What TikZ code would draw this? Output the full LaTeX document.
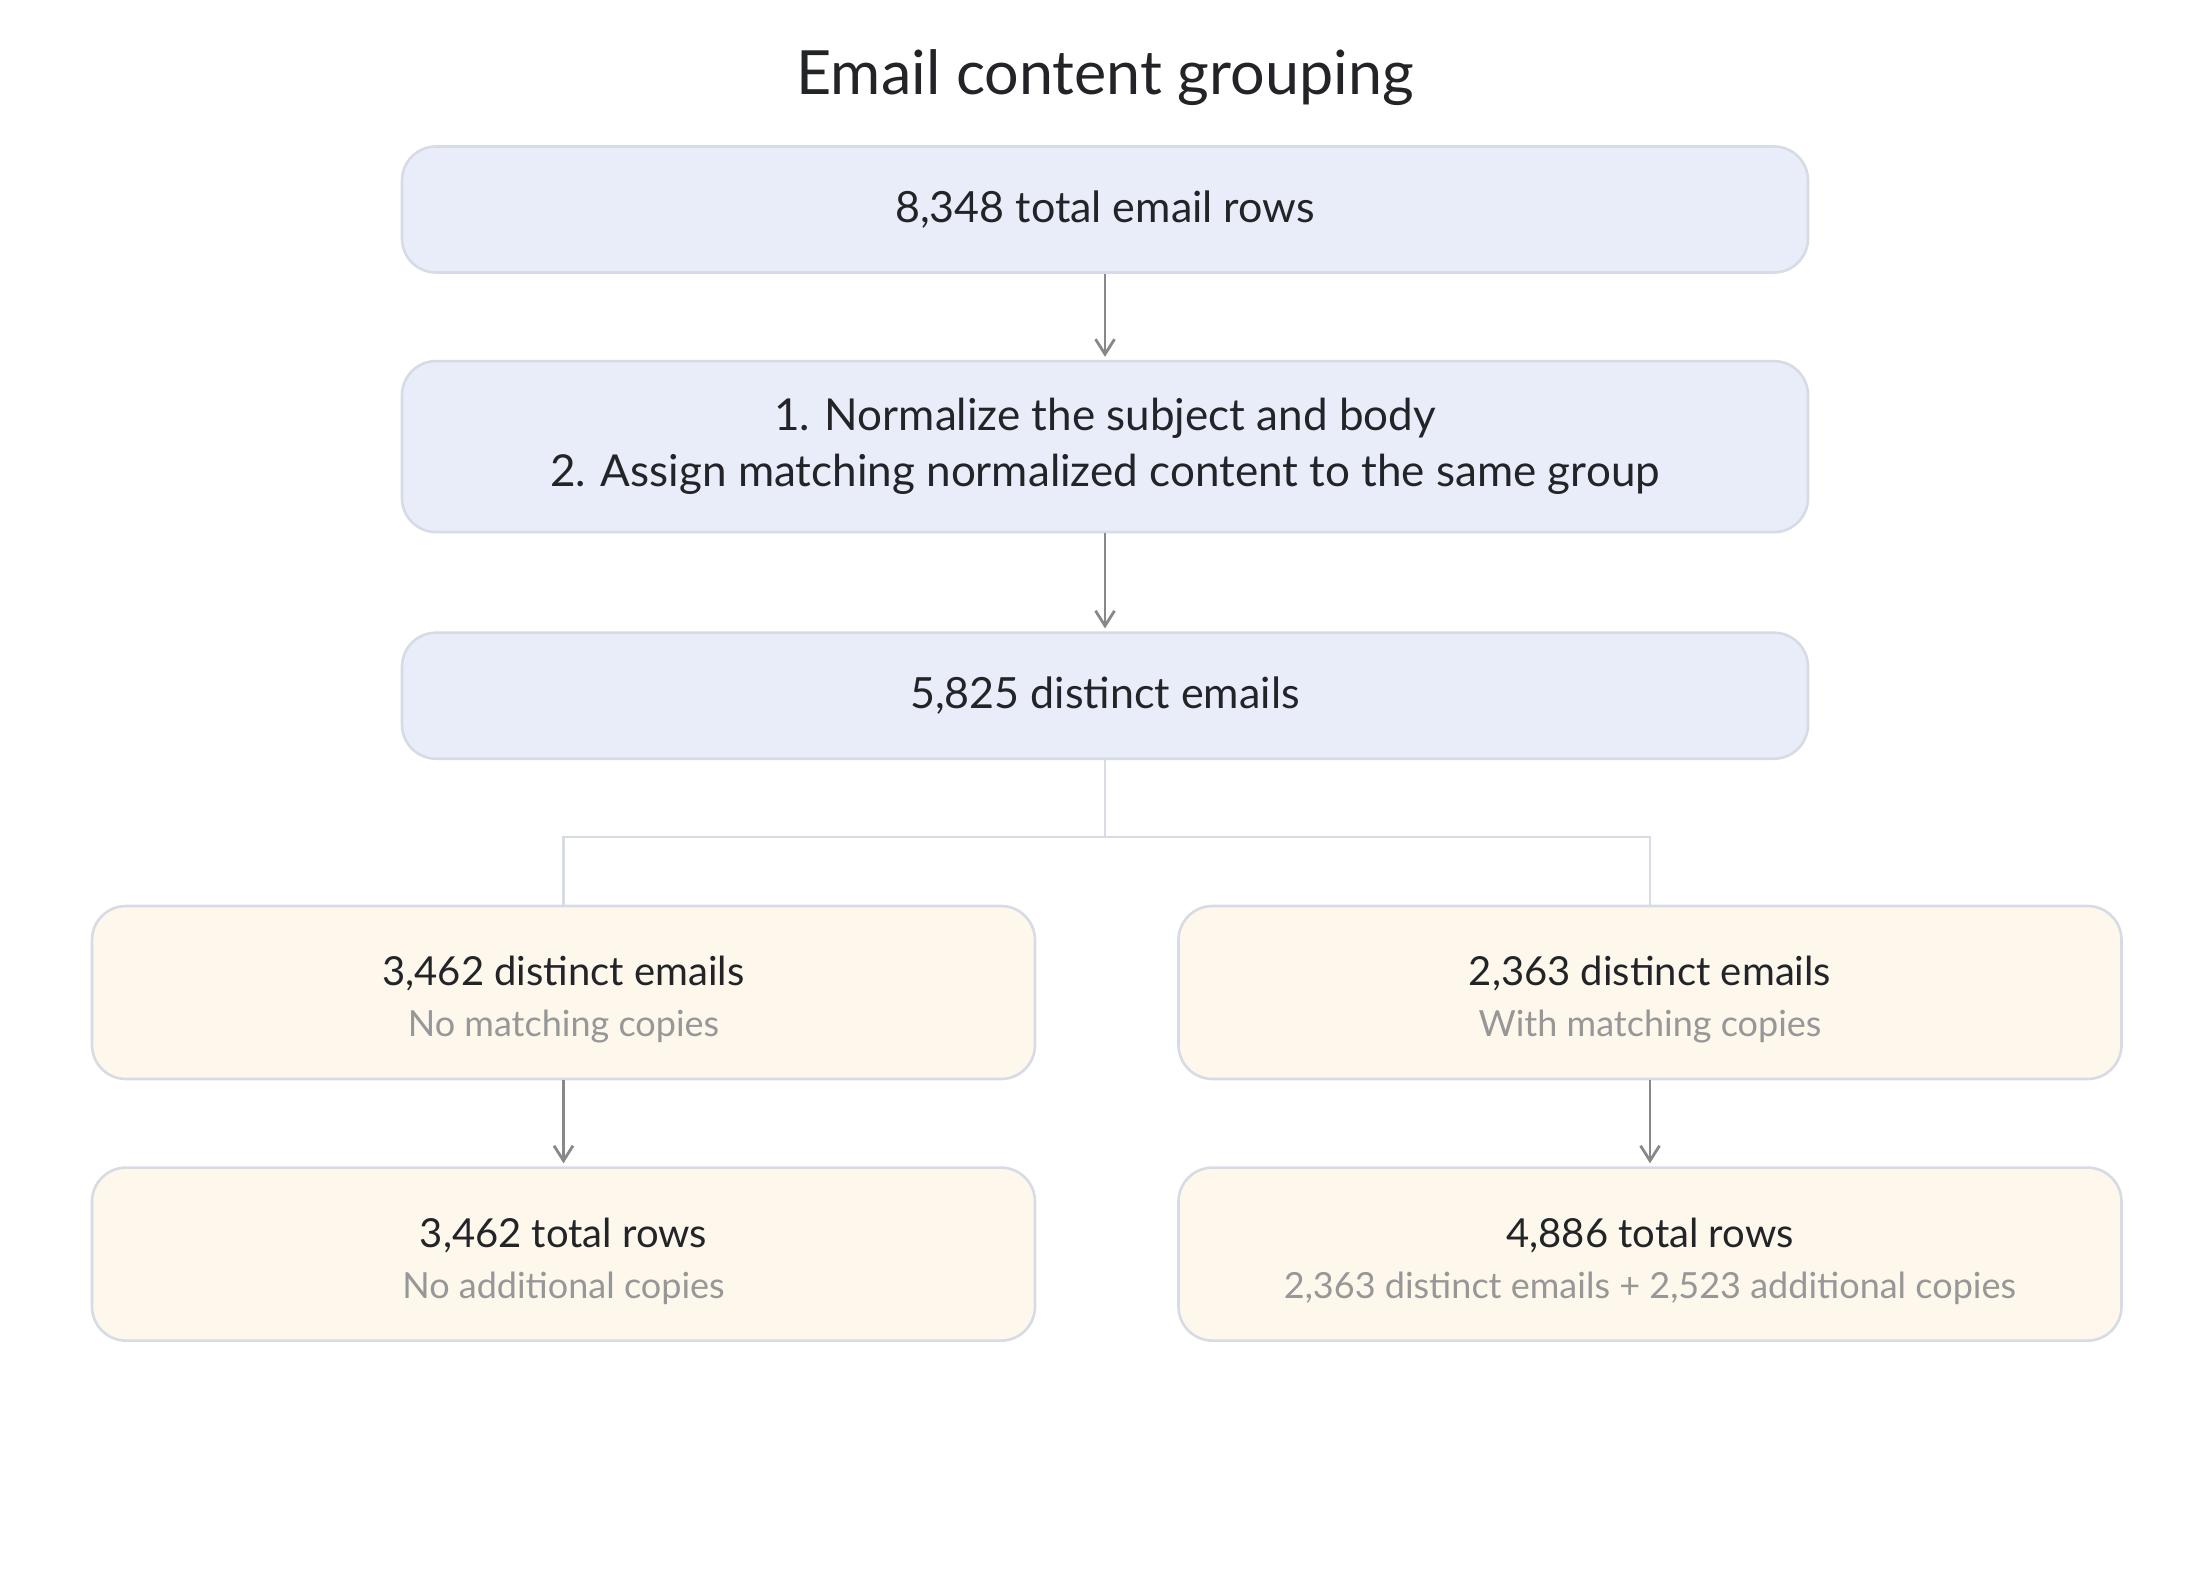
\documentclass[tikz,border=0pt]{standalone}
\usepackage{fontspec}
\setmainfont{Lato}
\usetikzlibrary{positioning, arrows.meta}
\definecolor{bluefill}{HTML}{E8EDF9}
\definecolor{creamfill}{HTML}{FDF7EC}
\definecolor{boxline}{HTML}{D6DBE5}
\definecolor{arrowgray}{HTML}{888888}
\definecolor{maintext}{HTML}{222428}
\definecolor{subtext}{HTML}{979797}
\newcommand{\subline}[1]{{\color{subtext}\fontsize{18}{24}\selectfont #1}}
\newcommand{\topline}[1]{\rule{0pt}{22pt}#1\\[-0.5pt]}

\begin{document}
\begin{tikzpicture}[x=0.5pt, y=-0.5pt,
	box/.style={draw=boxline, line width=1.3pt, rounded corners=17pt,
		align=center, text=maintext, inner sep=0pt,
		font=\fontsize{21.5}{28}\selectfont},
	bluebox/.style={box, fill=bluefill, minimum width=703pt},
	creambox/.style={box, fill=creamfill, minimum width=471.5pt, minimum height=86.5pt,
		font=\fontsize{20}{26}\selectfont},
	flow/.style={draw=arrowgray, line width=1.4pt, shorten >=1.5pt,
		-{Straight Barb[length=7.5pt, width=9.5pt, line width=1.4pt]}},
	branch/.style={draw=boxline, line width=1.3pt}
	]
	\useasboundingbox (0,0) rectangle (2210,1580);
	\node[text=maintext, font=\fontsize{30.5}{36}\selectfont] (title) at (1105,78) {Email content grouping};
	% main chain
	\node[bluebox, minimum height=63pt] (rows) at (1105,209.5) {8,348 total email rows};
	\node[bluebox, minimum height=85.5pt, below=43pt of rows, font=\fontsize{22}{28}\selectfont] (norm)
	{1. Normalize the subject and body\\2. Assign matching normalized content to the same group};
	\node[bluebox, minimum height=63pt, below=49pt of norm] (distinct) {5,825 distinct emails};
	% two groups
	\node[creambox] (nomatch) at (563.5,992.5)
	{\topline{3,462 distinct emails}\subline{No matching copies}};
	\node[creambox] (match) at (1650,992.5)
	{\topline{2,363 distinct emails}\subline{With matching copies}};
	\node[creambox, below=43pt of nomatch] (norows)
	{\topline{3,462 total rows}\subline{No additional copies}};
	\node[creambox, below=43pt of match] (matchrows)
	{\topline{4,886 total rows}\subline{2,363 distinct emails + 2,523 additional copies}};
	\coordinate (split) at (1105,837);
	\draw[flow] (rows) -- (norm);
	\draw[flow] (norm) -- (distinct);
	\draw[branch] (distinct) -- (split) -| (nomatch);
	\draw[branch] (split) -| (match);
	\draw[flow] (nomatch) -- (norows);
	\draw[flow] (match) -- (matchrows);
\end{tikzpicture}
\end{document}
